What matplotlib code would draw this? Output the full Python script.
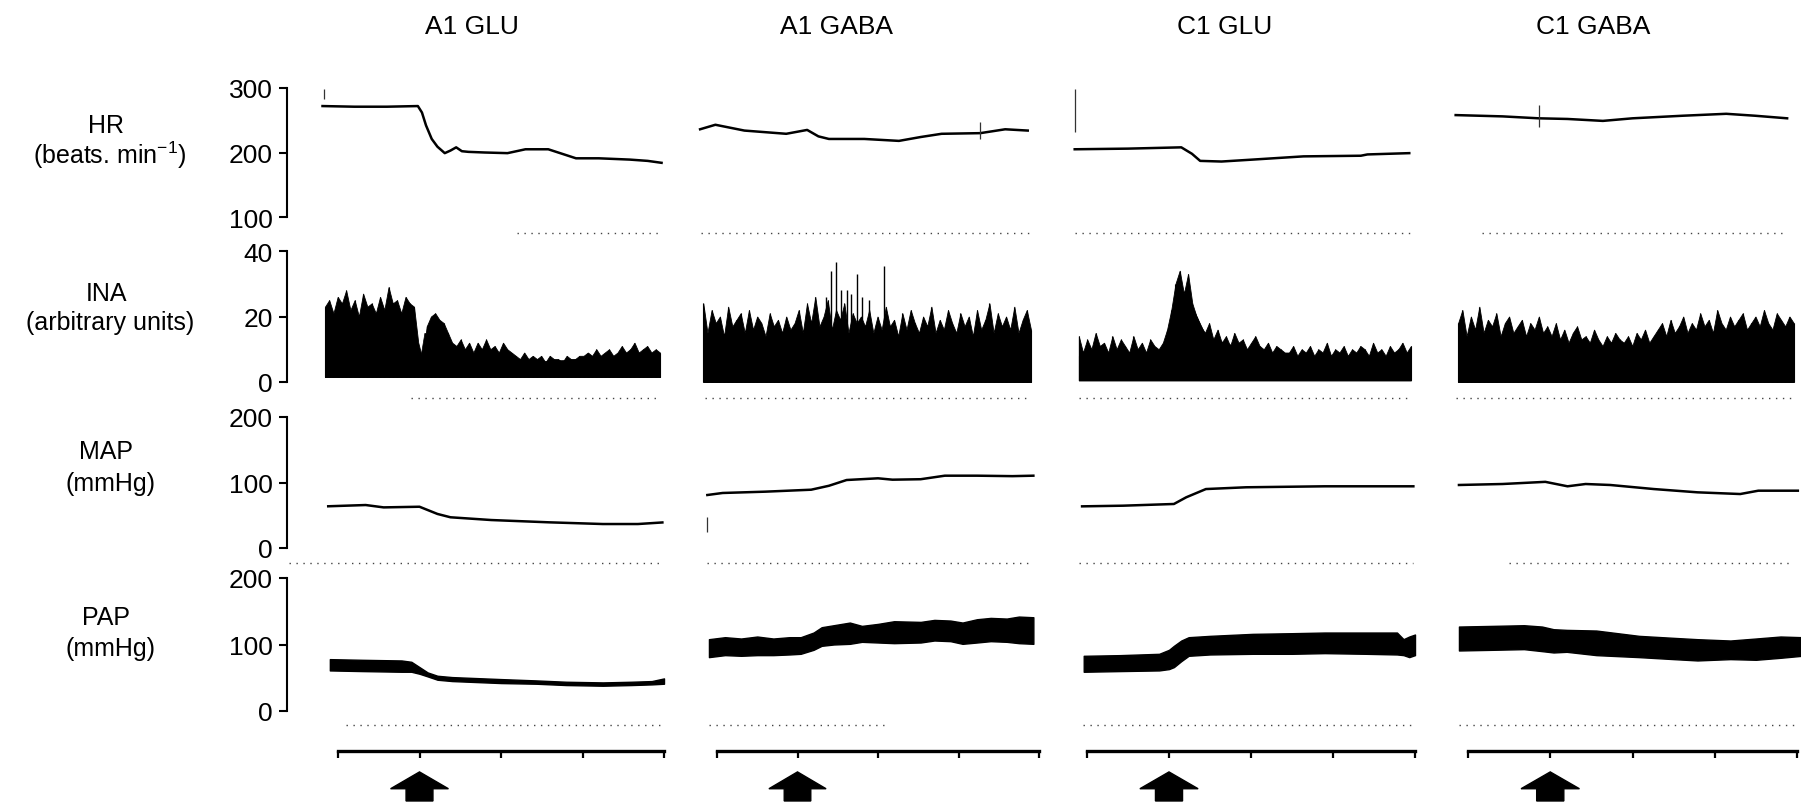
import numpy as np
import matplotlib.pyplot as plt
from matplotlib.patches import FancyArrow

plt.rcParams['font.family'] = ['Liberation Sans', 'DejaVu Sans']
plt.rcParams['mathtext.fontset'] = 'custom'
plt.rcParams['mathtext.rm'] = 'Liberation Sans'
plt.rcParams['mathtext.it'] = 'Liberation Sans'

W, H = 1801, 803

titles = ['A1 GLU', 'A1 GABA', 'C1 GLU', 'C1 GABA']
row_names = ['HR', 'INA', 'MAP', 'PAP']
row_units = ['(beats. min$^{-1}$)', '(arbitrary units)', '(mmHg)', '(mmHg)']
row_ticks = [[100, 200, 300], [0, 20, 40], [0, 100, 200], [0, 100, 200]]
time_ticks = [0, 1, 2, 3, 4]
injection_time = 1

# ---- HR (beats/min) : (time, value) per column
hr_t = [
    [-0.19, 0.2, 0.6, 0.98, 1.03, 1.08, 1.15, 1.22, 1.31, 1.38, 1.45, 1.52, 1.6, 1.8, 2.08, 2.3, 2.58, 2.75, 2.92, 3.2, 3.58, 3.8, 3.97],
    [-0.21, -0.02, 0.34, 0.86, 1.12, 1.26, 1.39, 1.83, 2.26, 2.53, 2.79, 3.27, 3.58, 3.86],
    [-0.15, 0.5, 1.15, 1.28, 1.38, 1.64, 2.02, 2.64, 3.34, 3.42, 3.93],
    [-0.15, 0.42, 0.86, 1.21, 1.64, 2.0, 2.61, 3.14, 3.49, 3.88],
]
hr_v = [
    [272, 271, 271, 272, 262, 242, 221, 209, 199, 203, 208, 202, 201, 200, 199, 205, 205, 198, 191, 191, 189, 187, 184],
    [236, 243, 234, 229, 235, 225, 221, 221, 218, 224, 229, 230, 236, 234],
    [205, 206, 208, 198, 187, 186, 189, 194, 195, 197, 199],
    [258, 256, 253, 252, 249, 253, 257, 260, 257, 253],
]

# ---- MAP (mmHg)
map_t = [
    [-0.12, 0.34, 0.56, 1.0, 1.22, 1.38, 1.88, 2.59, 3.25, 3.68, 3.98],
    [-0.12, 0.07, 0.6, 1.17, 1.39, 1.61, 2.0, 2.18, 2.53, 2.83, 3.23, 3.67, 3.93],
    [-0.06, 0.44, 1.06, 1.21, 1.45, 1.94, 2.9, 3.98],
    [-0.11, 0.42, 0.94, 1.21, 1.43, 1.73, 2.26, 2.79, 3.31, 3.53, 4.01],
]
map_v = [
    [63.7, 65.6, 62, 63, 52, 46.9, 42.7, 39.2, 36.6, 36.6, 39],
    [80.9, 84, 86, 89, 95, 103.8, 106.4, 104.3, 105, 110.4, 110.4, 109.7, 110.4],
    [63.6, 64.6, 67.2, 77.4, 90, 92.7, 94.2, 94.2],
    [96.2, 97.7, 101, 94.2, 97.7, 96.2, 90, 85, 82.4, 87.5, 87.5],
]

# ---- PAP (mmHg): pulsatile band, upper and lower envelope
pap_t = [
    [-0.1, 0.3, 0.78, 0.9, 1.0, 1.1, 1.22, 1.4, 1.6, 2.0, 2.43, 2.8, 3.25, 3.6, 3.85, 4.0],
    [-0.1, 0.1, 0.3, 0.5, 0.7, 0.9, 1.04, 1.2, 1.3, 1.45, 1.65, 1.8, 2.0, 2.2, 2.53, 2.7, 2.9, 3.05, 3.23, 3.4, 3.6, 3.75, 3.93],
    [-0.04, 0.4, 0.88, 1.0, 1.06, 1.15, 1.24, 1.5, 2.02, 2.5, 2.9, 3.4, 3.78, 3.86, 3.93, 4.0],
    [-0.11, 0.3, 0.68, 0.9, 1.04, 1.2, 1.56, 2.08, 2.5, 2.79, 3.19, 3.5, 3.8, 4.06],
]
pap_hi = [
    [78, 77, 76, 74, 66, 58, 53, 51, 50, 48, 46, 44, 43, 44, 45, 49],
    [108, 111, 109, 112, 109, 111, 111, 118, 126, 129, 133, 128, 131, 135, 134, 137, 136, 133, 138, 140, 139, 142, 141],
    [83, 84, 86, 92, 98, 106, 111, 113, 116, 117, 118, 118, 118, 108, 112, 115],
    [127, 128, 129, 127, 123, 122, 121, 113, 110, 108, 106, 109, 112, 111],
]
pap_lo = [
    [61, 60, 59, 59, 56, 52, 47, 45, 44, 42, 41, 39, 38, 39, 40, 41],
    [81, 84, 83, 84, 84, 85, 86, 92, 98, 100, 101, 104, 103, 102, 103, 106, 105, 101, 103, 105, 104, 102, 101],
    [59, 60, 61, 63, 66, 75, 83, 85, 86, 86, 87, 86, 85, 84, 81, 84],
    [91, 92, 93, 90, 88, 89, 84, 81, 78, 76, 78, 77, 80, 83],
]

# ---- INA (arbitrary units): spike tops sampled evenly over each trace
ina_span = [(-0.16, 3.95), (-0.17, 3.9), (-0.1, 3.95), (-0.12, 3.96)]
ina_base = [1.5, 0.0, 0.5, 0.0]
ina_top = [
    [23, 25, 21, 26, 24, 28, 22, 25, 20, 27, 23, 24, 21, 26, 22, 29, 24, 25, 21, 26, 24, 23,
     12, 7,
     17, 20, 21, 19, 18, 15, 12,
     11, 13, 10, 12, 9, 12, 10, 13, 10, 11, 9, 12, 10, 9,
     8, 7, 9, 7, 8, 7, 8, 6, 8, 7, 7, 6, 8, 7, 7, 8,
     8, 9, 8, 10, 8, 9, 10, 8, 9, 11, 9, 10, 12, 9, 10, 11, 9, 10, 9],
    [24, 15, 22, 18, 20, 14, 23, 17, 19, 21, 15, 22, 16, 20, 18, 14, 21, 17, 19, 15, 20, 16, 18,
     22, 15, 24, 18, 26, 17, 20, 25, 16, 22, 19, 24, 15, 21, 18, 20,
     17, 22, 15, 20, 16, 23, 17, 19, 14, 21, 16, 22, 18, 15, 20, 17, 23, 15, 19, 16, 22, 18, 15,
     21, 17, 20, 14, 22, 16, 19, 24, 15, 21, 17, 20, 16, 23, 15, 19, 22, 16],
    [14, 9, 13, 10, 15, 11, 12, 9, 14, 10, 13, 11, 9, 14, 10, 12, 9, 13, 11, 10, 12,
     16, 22, 30, 34, 27, 33, 24, 20, 17,
     15, 18, 13, 16, 12, 14, 11, 15, 12, 13, 10, 12, 14, 11, 10, 12, 9, 11, 10, 9,
     9, 11, 8, 10, 9, 11, 8, 10, 9, 12, 8, 10, 9, 11, 8, 10, 9, 11, 10, 8, 12, 9, 10, 8, 11, 9, 10, 12, 9, 11],
    [18, 22, 14, 20, 16, 23, 15, 19, 17, 21, 14, 18, 20, 15, 17, 19, 14, 18, 16, 20, 15, 17,
     14, 18, 13, 16, 12, 15, 17, 13, 14, 12, 16, 13, 11, 14, 12, 15, 13, 12, 14, 11, 15, 13, 16, 12, 14,
     16, 18, 14, 19, 15, 17, 20, 15, 18, 16, 21, 17, 19, 15, 22, 18, 16, 20, 17, 19, 21, 16, 18, 20,
     17, 22, 18, 16, 21, 19, 17, 20, 18],
]
# solid part of the INA trace
ina_core_t = [
    [-0.16, 0.9, 0.95, 1.0, 1.06, 1.3, 1.45, 2.2, 3.0, 3.95],
    [-0.17, 1.0, 1.3, 1.8, 3.9],
    [-0.1, 0.95, 1.05, 1.15, 1.3, 1.45, 1.8, 2.3, 3.95],
    [-0.12, 1.0, 1.8, 2.5, 3.2, 3.96],
]
ina_core = [
    [20, 20, 9, 6, 15, 13, 9, 6, 7, 7],
    [13, 12, 11, 9, 8],
    [8, 8, 20, 25, 22, 14, 11, 7, 7],
    [11, 10, 9, 11, 13, 13],
]
# tall bursts in A1 GABA
gaba_burst_t = [1.36, 1.41, 1.48, 1.54, 1.61, 1.67, 1.74, 1.8, 1.89, 2.07]
gaba_burst_v = [26, 34, 36.6, 28, 28, 27, 33, 26, 25, 35.5]

# recorder artefacts: (column, row, time, low, high)
artefacts = [(0, 0, -0.17, 283, 298), (1, 0, 3.27, 221, 247), (2, 0, -0.15, 232, 298),
             (3, 0, 0.86, 240, 273), (1, 2, -0.12, 24, 47)]

# faint dotted chart-paper lines under each trace: value and (start, end) per column
paper_v = [75, -5, -23, -21]
paper_span = [
    [(2.2, 3.93), (-0.2, 3.93), (-0.15, 3.95), (0.17, 3.82)],
    [(0.9, 3.95), (-0.15, 3.9), (-0.1, 3.95), (-0.15, 3.96)],
    [(-0.6, 3.95), (-0.12, 3.93), (-0.1, 3.98), (0.5, 3.9)],
    [(0.1, 3.95), (-0.1, 2.1), (-0.05, 4.0), (-0.11, 4.0)],
]

# ---- layout (pixels in the 1801x803 image)
col_px = [(338, 664), (717, 1039), (1087, 1415), (1468, 1797)]   # time 0 and time 4
row_px = [(89, 218), (252, 383), (418, 549), (579, 712)]         # top and bottom tick
title_x = [472, 836, 1225, 1593]
label_y = [(126, 155), (294, 323), (452, 484), (618, 649)]
spine_x = 287
time_axis_y = 752

fig = plt.figure(figsize=(W / 100, H / 100), dpi=100)


def px_axes(left, top, right, bottom):
    return fig.add_axes([left / W, 1 - bottom / H, (right - left) / W, (bottom - top) / H])


for c in range(4):
    x0, x4 = col_px[c]
    s = (x4 - x0) / 4
    left = spine_x if c == 0 else x0 - 0.3 * s
    right = min(x0 + 4.07 * s, W - 1)
    xlim = ((left - x0) / s, (right - x0) / s)

    fig.text(title_x[c] / W, 1 - 27 / H, titles[c], ha='center', va='center', fontsize=19)

    for r in range(4):
        ax = px_axes(left, row_px[r][0], right, row_px[r][1])
        ax.set_xlim(xlim)
        ax.set_ylim(row_ticks[r][0], row_ticks[r][-1])
        ax.patch.set_alpha(0)
        for sp in ['top', 'right', 'bottom']:
            ax.spines[sp].set_visible(False)
        ax.set_xticks([])
        if c == 0:
            ax.spines['left'].set_linewidth(1.5)
            ax.set_yticks(row_ticks[r])
            ax.tick_params(axis='y', direction='out', length=6, width=1.5, pad=4, labelsize=19)
        else:
            ax.spines['left'].set_visible(False)
            ax.set_yticks([])

        if r == 0:
            ax.plot(hr_t[c], hr_v[c], color='black', lw=1.8, clip_on=False)
        elif r == 1:
            t = np.linspace(ina_span[c][0], ina_span[c][1], len(ina_top[c]))
            ax.fill_between(ina_core_t[c], ina_base[c], ina_core[c], color='black', lw=0.5, clip_on=False)
            ax.fill_between(t, ina_base[c], ina_top[c], color='black', lw=0.6, clip_on=False)
            ax.vlines(t, ina_base[c], ina_top[c], color='black', lw=0.8, clip_on=False)
            if c == 1:
                ax.vlines(gaba_burst_t, 0, gaba_burst_v, color='black', lw=1.0, clip_on=False)
        elif r == 2:
            ax.plot(map_t[c], map_v[c], color='black', lw=1.8, clip_on=False)
        else:
            ax.fill_between(pap_t[c], pap_lo[c], pap_hi[c], color='black', lw=1.0, clip_on=False)

        for (cc, rr, ta, lo, hi) in artefacts:
            if cc == c and rr == r:
                ax.vlines(ta, lo, hi, color='#333333', lw=0.9, clip_on=False)

        ps = paper_span[r][c]
        ax.plot(ps, [paper_v[r], paper_v[r]], color='#444444', lw=1.0,
                linestyle=(0, (1, 4)), clip_on=False)

    # time axis with injection arrow
    tax = px_axes(left, time_axis_y, right, H)
    tax.set_xlim(xlim)
    tax.set_ylim(0, 1)
    tax.patch.set_alpha(0)
    for sp in ['left', 'right', 'bottom']:
        tax.spines[sp].set_visible(False)
    tax.spines['top'].set_linewidth(2.4)
    tax.spines['top'].set_bounds(time_ticks[0], time_ticks[-1])
    tax.xaxis.set_ticks_position('top')
    tax.set_xticks(time_ticks)
    tax.tick_params(axis='x', direction='in', length=5, width=1.6, labeltop=False, labelbottom=False)
    tax.set_yticks([])
    tax.add_patch(FancyArrow(injection_time, 0.02, 0, 0.57, width=0.33, head_width=0.71,
                             head_length=0.33, length_includes_head=True, color='black'))

for r in range(4):
    fig.text(106 / W, 1 - label_y[r][0] / H, row_names[r], ha='center', va='center', fontsize=18)
    fig.text(110 / W, 1 - label_y[r][1] / H, row_units[r], ha='center', va='center', fontsize=18)

fig.savefig('out.png', dpi=100)
